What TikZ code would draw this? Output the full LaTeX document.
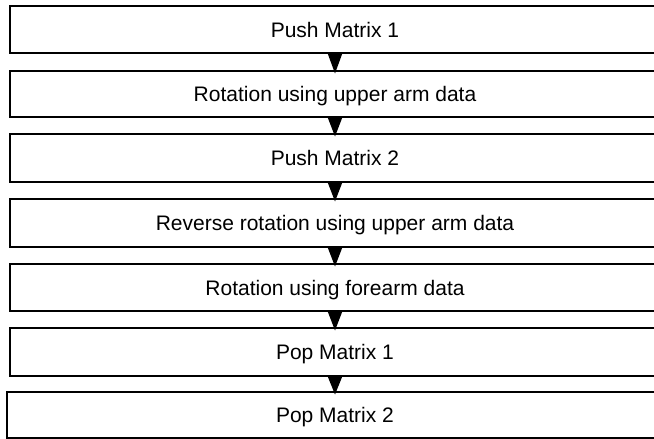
\documentclass[tikz,border=0pt]{standalone}
\usepackage{fontspec}
\setmainfont{Liberation Sans}
\begin{document}
\begin{tikzpicture}[x=1pt,y=-1pt,
  stepbox/.style={draw=black,line width=2pt,fill=white,inner sep=0pt,outer sep=0pt,
    minimum width=650pt,text height=15.2pt,text depth=0pt,
    font=\fontsize{21}{25}\selectfont},
  tri/.style={fill=black}]
\useasboundingbox[fill=white] (0,0) rectangle (654,439);
\node[stepbox,minimum height=47pt] (b1) at (335,29.5) {Push Matrix 1};
\node[stepbox,minimum height=46pt] (b2) at (335,94) {Rotation using upper arm data};
\node[stepbox,minimum height=48pt] (b3) at (335,158) {Push Matrix 2};
\node[stepbox,minimum height=48pt] (b4) at (335,223) {Reverse rotation using upper arm data};
\node[stepbox,minimum height=47pt] (b5) at (335,287.5) {Rotation using forearm data};
\node[stepbox,minimum height=48pt] (b6) at (335,352) {Pop Matrix 1};
\node[stepbox,minimum height=46pt,minimum width=656pt] (b7) at (335,415) {Pop Matrix 2};
\foreach \a/\b in {b1/b2,b2/b3,b3/b4,b4/b5,b5/b6,b6/b7}{
  \fill[tri] ([xshift=-7.5pt]\a.south) -- ([xshift=7.5pt]\a.south) -- ([yshift=-2.5pt]\b.north) -- cycle;
}
\end{tikzpicture}
\end{document}
